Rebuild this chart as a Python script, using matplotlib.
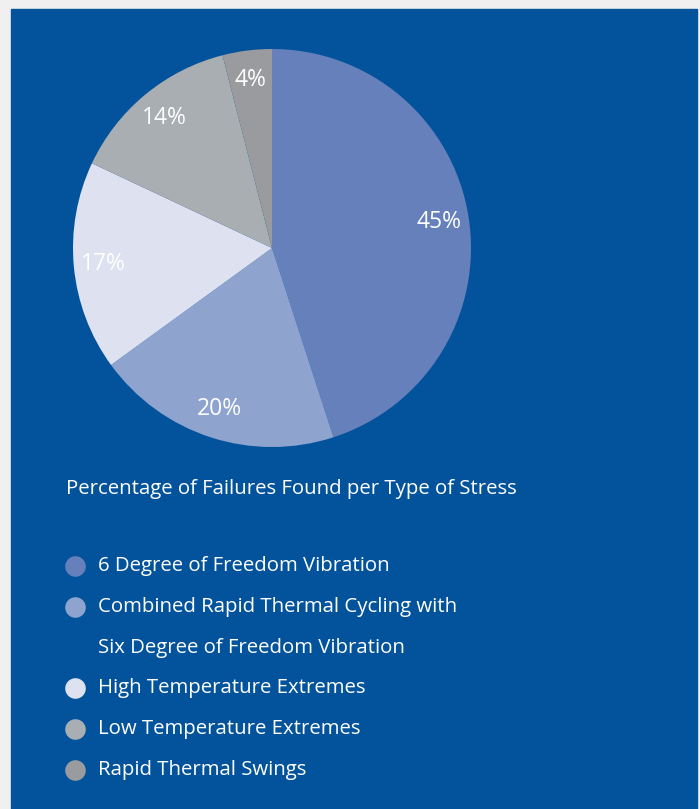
import matplotlib
matplotlib.use('Agg')
from matplotlib import pyplot as plt
from matplotlib.patches import Rectangle

# data
categories = ['6 Degree of Freedom Vibration',
              'Combined Rapid Thermal Cycling with\nSix Degree of Freedom Vibration',
              'High Temperature Extremes',
              'Low Temperature Extremes',
              'Rapid Thermal Swings']
values = [45, 20, 17, 14, 4]
colors = ['#6680BB', '#8FA3CF', '#DDE1F0', '#A9AEB3', '#999B9E']
title = 'Percentage of Failures Found per Type of Stress'

W, H = 700, 809
plt.rcParams['font.family'] = ['Open Sans', 'DejaVu Sans']
fig = plt.figure(figsize=(W / 100, H / 100), dpi=100, facecolor='#F0F0F0')

# background panel, pixel coords
bg = fig.add_axes([0, 0, 1, 1])
bg.set_xlim(0, W)
bg.set_ylim(H, 0)
bg.axis('off')
bg.add_patch(Rectangle((11, 9), 686, 800, color='#02539B', zorder=0))

# pie
cx, cy, r = 272, 248, 199
ax = fig.add_axes([(cx - r) / W, (H - cy - r) / H, 2 * r / W, 2 * r / H])
wedges, texts, autotexts = ax.pie(values, colors=colors, startangle=90, counterclock=False,
                                  autopct='%d%%', pctdistance=0.85,
                                  wedgeprops=dict(linewidth=0),
                                  textprops=dict(color='white', fontsize=16.5))
ax.set_xlim(-1, 1)
ax.set_ylim(-1, 1)
ax.set_aspect('equal')
ax.axis('off')

bg.text(66, 489, title, color='white', fontsize=14.7, va='center', ha='left')

ys = [566, 607, 688, 729, 770]
for y, c, lab in zip(ys, colors, categories):
    bg.scatter([75], [y], s=220, color=c, linewidths=0)
    lines = lab.split('\n')
    for i, ln in enumerate(lines):
        bg.text(98, y + i * 40.5, ln, color='white', fontsize=14.7, va='center', ha='left')

plt.savefig('out.png', dpi=100, facecolor=fig.get_facecolor())
